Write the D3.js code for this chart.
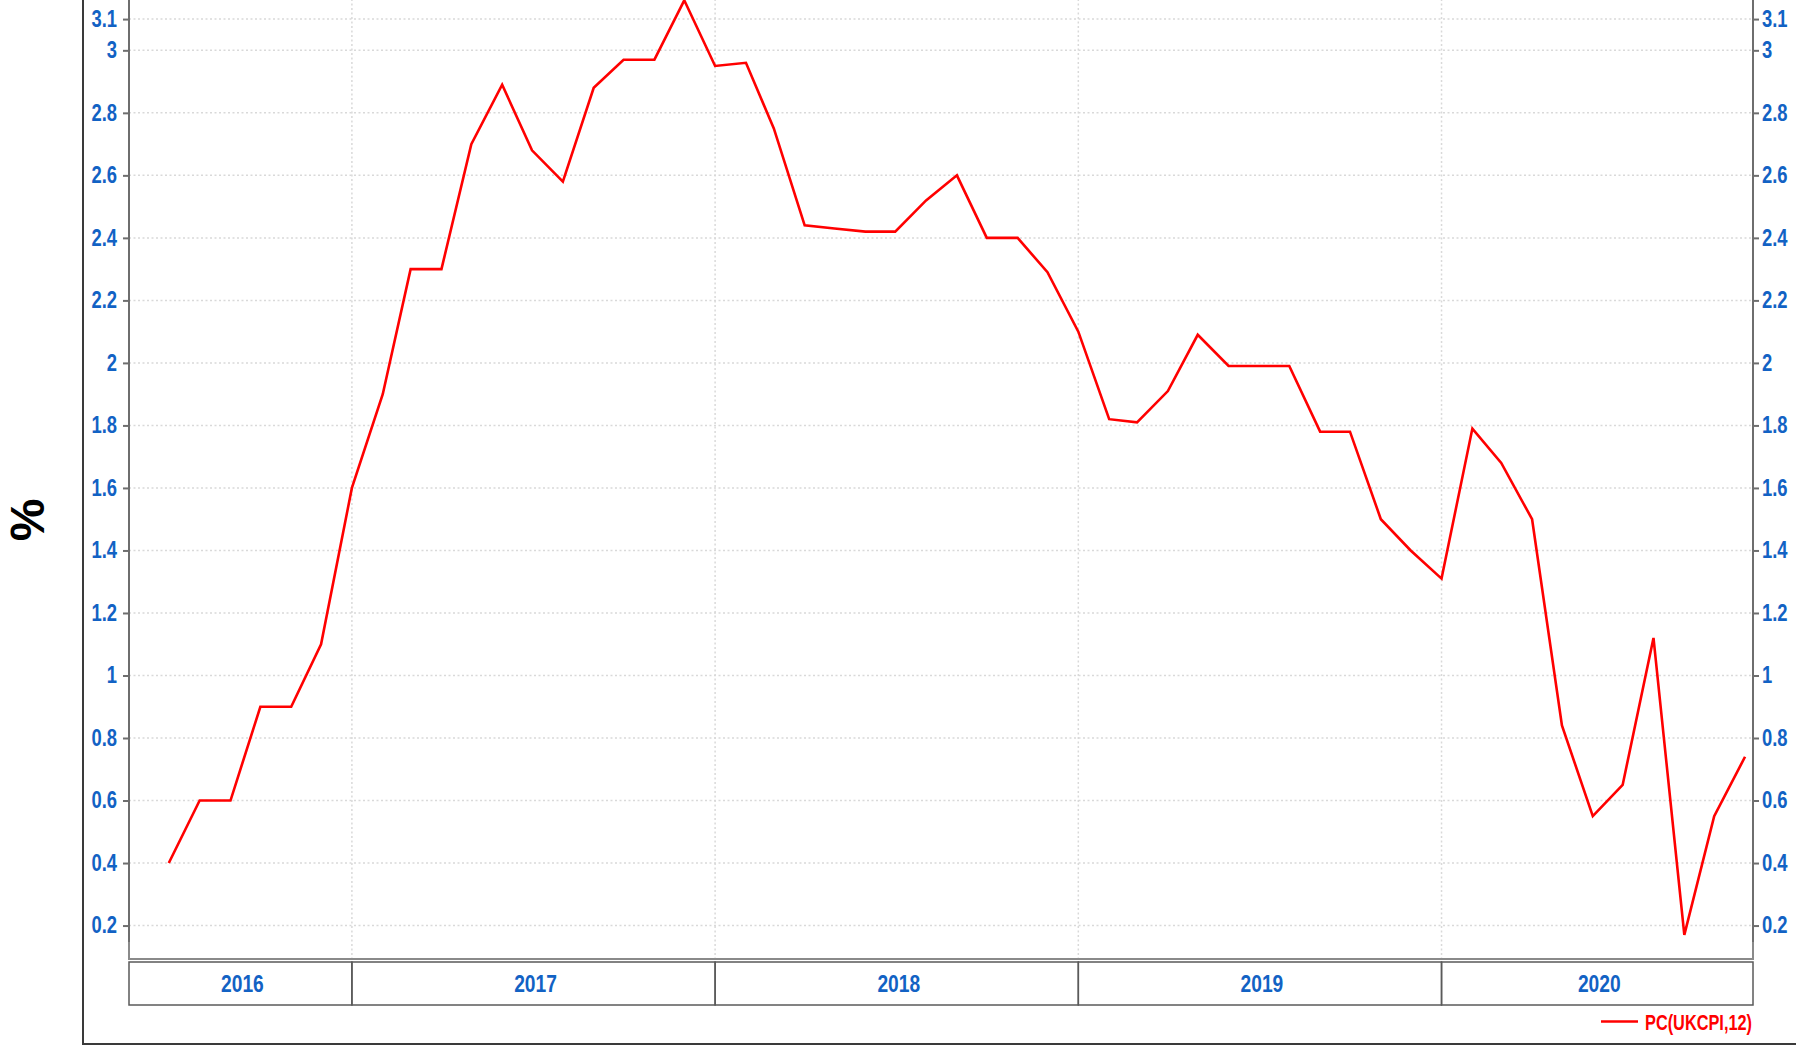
<!DOCTYPE html>
<html>
<head>
<meta charset="utf-8">
<script src="https://cdn.jsdelivr.net/npm/d3@7"></script>
<style>
  body { margin: 0; background: #fff; }
  svg { display: block; }
  .lbl { font-family: "Liberation Sans Narrow", "Arial Narrow", "Liberation Sans", sans-serif; font-weight: bold; }
</style>
</head>
<body>
<script>
// monthly observations (plotted at month end)
var months = [
  "2016-06","2016-07","2016-08","2016-09","2016-10","2016-11","2016-12",
  "2017-01","2017-02","2017-03","2017-04","2017-05","2017-06","2017-07","2017-08","2017-09","2017-10","2017-11","2017-12",
  "2018-01","2018-02","2018-03","2018-04","2018-05","2018-06","2018-07","2018-08","2018-09","2018-10","2018-11","2018-12",
  "2019-01","2019-02","2019-03","2019-04","2019-05","2019-06","2019-07","2019-08","2019-09","2019-10","2019-11","2019-12",
  "2020-01","2020-02","2020-03","2020-04","2020-05","2020-06","2020-07","2020-08","2020-09","2020-10"
];
var ukcpi = [
  0.40, 0.60, 0.60, 0.90, 0.90, 1.10, 1.60,
  1.90, 2.30, 2.30, 2.70, 2.89, 2.68, 2.58, 2.88, 2.97, 2.97, 3.16, 2.95,
  2.96, 2.75, 2.44, 2.43, 2.42, 2.42, 2.52, 2.60, 2.40, 2.40, 2.29, 2.10,
  1.82, 1.81, 1.91, 2.09, 1.99, 1.99, 1.99, 1.78, 1.78, 1.50, 1.40, 1.31,
  1.79, 1.68, 1.50, 0.84, 0.55, 0.65, 1.12, 0.17, 0.55, 0.74
];
var yearLabels = ["2016", "2017", "2018", "2019", "2020"];
var yTicks = [0.2, 0.4, 0.6, 0.8, 1, 1.2, 1.4, 1.6, 1.8, 2, 2.2, 2.4, 2.6, 2.8, 3, 3.1];
var seriesName = "PC(UKCPI,12)";

var W = 1796, H = 1046;
var plot = {left: 129, right: 1753, top: -10, bottom: 959};
var blue = "#1262c4";
var narrow = 0.8; // squeeze the bold labels, no narrow font installed

var svg = d3.select("body").append("svg")
    .attr("width", W)
    .attr("height", H);

var parseMonth = d3.timeParse("%Y-%m");
var data = months.map(function(m, i) {
  return {date: d3.timeMonth.offset(parseMonth(m), 1), value: ukcpi[i]};
});

// scales
var x = d3.scaleTime()
    .domain([new Date(2016, 4, 22), new Date(2020, 10, 9)])
    .range([plot.left, plot.right]);
var y = d3.scaleLinear()
    .domain([0.093, 3.193])
    .range([plot.bottom, plot.top]);

// outer frame (cropped chart)
svg.append("path")
    .attr("d", "M83,-5V1044H" + (W + 5))
    .attr("fill", "none")
    .attr("stroke", "#3a3a3a")
    .attr("stroke-width", 2);

// horizontal grid
svg.append("g")
  .selectAll("line")
  .data(yTicks)
  .enter().append("line")
    .attr("x1", plot.left).attr("x2", plot.right)
    .attr("y1", function(d) { return y(d); })
    .attr("y2", function(d) { return y(d); })
    .attr("stroke", "#d9d9d9")
    .attr("stroke-width", 1.5)
    .attr("stroke-dasharray", "2,2.5");

// year boundaries
var bounds = yearLabels.slice(1).map(function(yr) { return new Date(+yr, 0, 1); });
svg.append("g")
  .selectAll("line")
  .data(bounds)
  .enter().append("line")
    .attr("x1", function(d) { return x(d); })
    .attr("x2", function(d) { return x(d); })
    .attr("y1", plot.top).attr("y2", plot.bottom)
    .attr("stroke", "#d9d9d9")
    .attr("stroke-width", 1.5)
    .attr("stroke-dasharray", "2,2.5");

// plot border
svg.append("path")
    .attr("d", "M" + plot.left + "," + plot.top + "V" + plot.bottom + "H" + plot.right + "V" + plot.top)
    .attr("fill", "none")
    .attr("stroke", "#8a8a8a")
    .attr("stroke-width", 2);

// y axes, left and right
var axL = svg.append("g")
    .attr("transform", "translate(" + plot.left + ",0)")
    .call(d3.axisLeft(y).tickValues(yTicks).tickSize(6).tickFormat(d3.format("")));
var axR = svg.append("g")
    .attr("transform", "translate(" + plot.right + ",0)")
    .call(d3.axisRight(y).tickValues(yTicks).tickSize(6).tickFormat(d3.format("")));
[axL, axR].forEach(function(ax) {
  ax.select(".domain").attr("stroke", "#6e6e6e").attr("stroke-width", 2)
    .attr("d", "M0,-10V942");
  ax.selectAll(".tick line").attr("stroke", "#6e6e6e").attr("stroke-width", 2);
  ax.selectAll(".tick text")
    .attr("class", "lbl")
    .attr("fill", blue)
    .attr("font-size", 23)
    .attr("x", (ax === axL ? -12 : 9) / narrow)
    .attr("transform", "scale(" + narrow + ",1)");
});

// x axis: year boxes
var boxTop = 962, boxBottom = 1005;
var edges = [x.domain()[0]].concat(bounds, [x.domain()[1]]);
var boxes = yearLabels.map(function(yr, i) {
  return {label: yr, x0: x(edges[i]), x1: x(edges[i + 1])};
});
var xg = svg.append("g");
xg.selectAll("rect")
  .data(boxes)
  .enter().append("rect")
    .attr("x", function(d) { return d.x0; })
    .attr("y", boxTop)
    .attr("width", function(d) { return d.x1 - d.x0; })
    .attr("height", boxBottom - boxTop)
    .attr("fill", "none")
    .attr("stroke", "#5a5a5a")
    .attr("stroke-width", 1.5);
xg.selectAll("text")
  .data(boxes)
  .enter().append("text")
    .attr("class", "lbl")
    .attr("transform", function(d) {
      return "translate(" + ((d.x0 + d.x1) / 2 + 2) + "," + ((boxTop + boxBottom) / 2 + 8.5) + ") scale(" + narrow + ",1)";
    })
    .attr("text-anchor", "middle")
    .attr("fill", blue)
    .attr("font-size", 24)
    .text(function(d) { return d.label; });

// series line
var line = d3.line()
    .x(function(d) { return x(d.date); })
    .y(function(d) { return y(d.value); });
svg.append("path")
    .datum(data)
    .attr("fill", "none")
    .attr("stroke", "#ff0000")
    .attr("stroke-width", 2.6)
    .attr("stroke-linejoin", "miter")
    .attr("d", line);

// y title
svg.append("text")
    .attr("transform", "translate(44,520) rotate(-90)")
    .attr("text-anchor", "middle")
    .attr("font-family", "Liberation Sans, Arial, sans-serif")
    .attr("font-weight", "bold")
    .attr("font-size", 48)
    .attr("fill", "#000")
    .text("%");

// legend
svg.append("line")
    .attr("x1", 1601).attr("x2", 1638)
    .attr("y1", 1021.5).attr("y2", 1021.5)
    .attr("stroke", "#ff0000")
    .attr("stroke-width", 2.6);
svg.append("text")
    .attr("class", "lbl")
    .attr("transform", "translate(1645,1029.5) scale(0.76,1)")
    .attr("fill", "#ff0000")
    .attr("font-size", 21.5)
    .text(seriesName);
</script>
</body>
</html>
